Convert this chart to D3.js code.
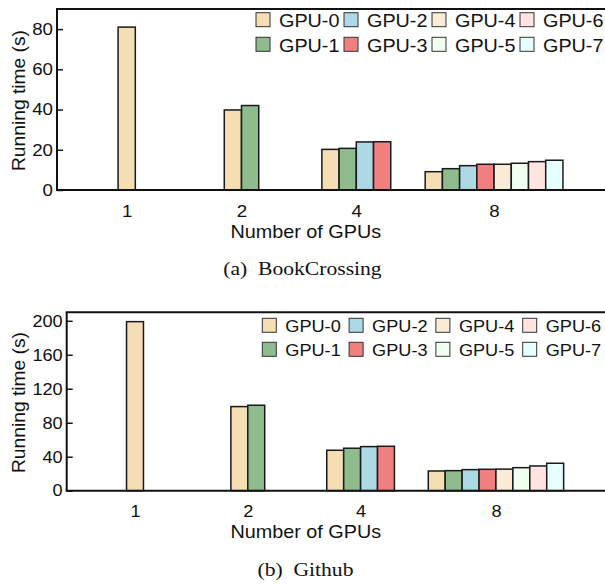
<!DOCTYPE html>
<html>
<head>
<meta charset="utf-8">
<script src="https://cdn.jsdelivr.net/npm/d3@7"></script>
<style>
  html, body { margin: 0; padding: 0; background: #fff; }
  svg { display: block; }
</style>
</head>
<body>
<div id="container"></div>
<script>
// ---- data ----
const gpuCounts = ['1', '2', '4', '8']
const gpuNames = ['GPU-0', 'GPU-1', 'GPU-2', 'GPU-3', 'GPU-4', 'GPU-5', 'GPU-6', 'GPU-7']
// running time per GPU, one inner array per GPU count
const bookCrossingTimes = [
  [81],
  [39.8, 42],
  [20.2, 20.7, 23.9, 24.0],
  [9.1, 10.6, 12.1, 12.8, 12.8, 13.3, 14.1, 14.8]
]
const githubTimes = [
  [199],
  [99, 100.6],
  [47.6, 50, 51.9, 52.3],
  [23.2, 23.6, 24.8, 25.2, 25.4, 27.1, 29.1, 32.3]
]
const bookCrossingTicks = [0, 20, 40, 60, 80]
const githubTicks = [0, 40, 80, 120, 160, 200]

const gpuColors = ['#f5deb3', '#8fbc8f', '#add8e6', '#f08080', '#faebd7', '#f0fff0', '#ffe4e1', '#e6ffff']
const SANS = '"Liberation Sans", Arial, sans-serif'
const SERIF = '"Liberation Serif", "Times New Roman", serif'
const STRETCH = 1.1

const width = 605
const height = 584

const svg = d3.select('#container').append('svg')
  .attr('width', width)
  .attr('height', height)

// widen text horizontally around its anchor (the figure was scaled wider than tall)
function stretchText (sel, s) {
  sel.each(function () {
    const t = d3.select(this)
    const x = +t.attr('x') || 0
    t.attr('transform', `translate(${x},0) scale(${s},1) translate(${-x},0)`)
  })
}

function drawPanel (cfg) {
  const g = svg.append('g')

  // groups sit at slots 0,1,2 and the 8-GPU group is pushed a bit further right
  const slot = d3.scaleOrdinal(gpuCounts, [0, 1, 2, 3.2])
  const xLin = d3.scaleLinear([0, 1], [cfg.x0, cfg.x0 + cfg.unit])
  const x = d3.scaleOrdinal(gpuCounts, gpuCounts.map(c => xLin(slot(c))))
  const barW = xLin(0.15) - xLin(0)
  const y = d3.scaleLinear([0, cfg.yMax], [cfg.bottom, cfg.top])

  // bars
  gpuCounts.forEach((c, gi) => {
    const vals = cfg.times[gi]
    const n = vals.length
    g.selectAll(null)
      .data(vals)
      .enter()
      .append('rect')
      .attr('x', (v, i) => x(c) + (i - n / 2) * barW)
      .attr('y', v => y(v))
      .attr('width', barW)
      .attr('height', v => y(0) - y(v))
      .attr('fill', (v, i) => gpuColors[i])
      .attr('stroke', '#1a1a1a')
      .attr('stroke-width', 1.5)
  })

  // y axis with inward ticks
  const yAxis = g.append('g')
    .attr('transform', `translate(${cfg.left},0)`)
    .call(d3.axisLeft(y).tickValues(cfg.ticks).tickSizeInner(-6).tickSizeOuter(0).tickPadding(4))
  yAxis.select('.domain').remove()
  yAxis.selectAll('line').attr('stroke', '#1a1a1a').attr('stroke-width', 1.5)
  yAxis.selectAll('text')
    .attr('font-family', SANS)
    .attr('font-size', cfg.tickFont)
    .attr('fill', '#111')
    .call(stretchText, STRETCH)

  // x axis labels
  const xAxis = g.append('g')
    .attr('transform', `translate(0,${cfg.bottom})`)
    .call(d3.axisBottom(x).tickSize(0).tickPadding(cfg.xPad))
  xAxis.select('.domain').remove()
  xAxis.selectAll('text')
    .attr('font-family', SANS)
    .attr('font-size', cfg.tickFont)
    .attr('fill', '#111')
    .call(stretchText, STRETCH)

  // frame: left, top, bottom (right side runs off the page)
  const frame = [
    [[cfg.left, cfg.top], [cfg.left, cfg.bottom]],
    [[cfg.left - 1, cfg.top], [width + 20, cfg.top]],
    [[cfg.left - 1, cfg.bottom], [width + 20, cfg.bottom]]
  ]
  g.selectAll(null)
    .data(frame)
    .enter()
    .append('path')
    .attr('d', d => d3.line()(d))
    .attr('stroke', '#111')
    .attr('stroke-width', 2)
    .attr('fill', 'none')

  // axis titles
  g.append('text')
    .attr('transform', `translate(${cfg.yTitleX},${(cfg.top + cfg.bottom) / 2 + 1}) rotate(-90) scale(${STRETCH},1)`)
    .attr('text-anchor', 'middle')
    .attr('font-family', SANS)
    .attr('font-size', 17.5)
    .attr('fill', '#111')
    .text('Running time (s)')

  g.append('text')
    .attr('x', 305.8)
    .attr('y', cfg.xTitleY)
    .attr('text-anchor', 'middle')
    .attr('font-family', SANS)
    .attr('font-size', 18)
    .attr('fill', '#111')
    .text('Number of GPUs')
    .call(stretchText, STRETCH)

  // caption
  g.append('text')
    .attr('x', cfg.capX)
    .attr('y', cfg.capY)
    .attr('text-anchor', 'middle')
    .attr('font-family', SERIF)
    .attr('font-size', 18)
    .attr('fill', '#111')
    .attr('xml:space', 'preserve')
    .text(cfg.caption)
    .call(stretchText, 1.2)

  // legend, 4 columns x 2 rows, filled column by column
  const leg = g.selectAll(null)
    .data(gpuNames)
    .enter()
    .append('g')
    .attr('transform', (d, i) => `translate(${cfg.legX + Math.floor(i / 2) * cfg.legStep},${cfg.legY + (i % 2) * cfg.legRow})`)
  leg.append('rect')
    .attr('width', 14)
    .attr('height', 14)
    .attr('fill', (d, i) => gpuColors[i])
    .attr('stroke', '#333')
    .attr('stroke-width', 1)
  leg.append('text')
    .attr('x', 23)
    .attr('y', cfg.legBase)
    .attr('font-family', SANS)
    .attr('font-size', cfg.legFont)
    .attr('fill', '#111')
    .text(d => d)
    .call(stretchText, STRETCH)
}

drawPanel({
  times: bookCrossingTimes,
  ticks: bookCrossingTicks,
  yMax: 90,
  left: 57,
  top: 9,
  bottom: 190,
  x0: 126.7,
  unit: 114.8,
  xPad: 15,
  tickFont: 17,
  yTitleX: 25,
  xTitleY: 238.5,
  caption: '(a)  BookCrossing',
  capX: 302.5,
  capY: 275,
  legX: 256,
  legY: 12.7,
  legStep: 88,
  legRow: 24.6,
  legBase: 14.5,
  legFont: 18
})

drawPanel({
  times: githubTimes,
  ticks: githubTicks,
  yMax: 210,
  left: 66.7,
  top: 312.3,
  bottom: 490.7,
  x0: 135,
  unit: 112.8,
  xPad: 14.5,
  tickFont: 16.5,
  yTitleX: 25,
  xTitleY: 538,
  caption: '(b)  Github',
  capX: 305.5,
  capY: 576,
  legX: 262.3,
  legY: 318.3,
  legStep: 86.8,
  legRow: 24,
  legBase: 14,
  legFont: 16.5
})
</script>
</body>
</html>
